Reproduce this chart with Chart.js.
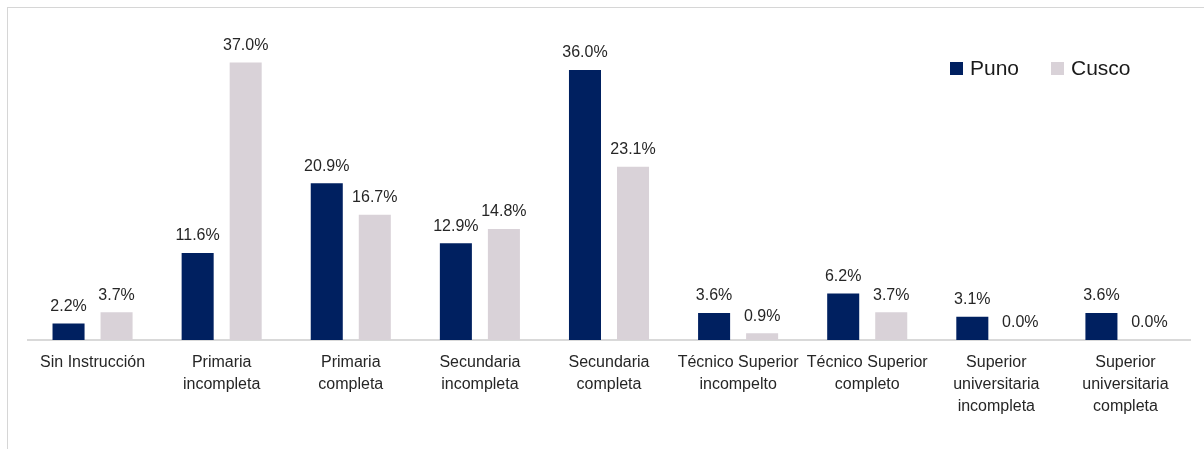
<!DOCTYPE html>
<html>
<head>
<meta charset="utf-8">
<script src="https://cdn.jsdelivr.net/npm/chart.js@4.4.1/dist/chart.umd.min.js"></script>
<style>
  html, body { margin: 0; padding: 0; background: #ffffff; overflow: hidden; }
  .marco {
    position: absolute; left: 7px; top: 7px; width: 1250px; height: 500px;
    border-left: 1.5px solid #d6d6d6; border-top: 1.5px solid #d6d6d6;
  }
  .graf { position: absolute; left: 0; top: 0; width: 1204px; height: 449px; }
</style>
</head>
<body>
<div class="marco"></div>
<div class="graf"><canvas id="Chart"></canvas></div>
<script>
// niveles educativos
const niveles = [
  ["Sin Instrucción"],
  ["Primaria", "incompleta"],
  ["Primaria", "completa"],
  ["Secundaria", "incompleta"],
  ["Secundaria", "completa"],
  ["Técnico Superior", "incompelto"],
  ["Técnico Superior", "completo"],
  ["Superior", "universitaria", "incompleta"],
  ["Superior", "universitaria", "completa"],
];
const puno = [2.2, 11.6, 20.9, 12.9, 36.0, 3.6, 6.2, 3.1, 3.6];
const cusco = [3.7, 37.0, 16.7, 14.8, 23.1, 0.9, 3.7, 0.0, 0.0];

const colorPuno = "#002060";
const colorCusco = "#d9d2d8";
const fuente = "'Liberation Sans', Arial, sans-serif";

// etiqueta de porcentaje encima de cada barra
const etiquetas = {
  id: "etiquetas",
  afterDatasetsDraw(chart) {
    const { ctx } = chart;
    ctx.save();
    ctx.font = "16px " + fuente;
    ctx.fillStyle = "#262626";
    ctx.textAlign = "center";
    ctx.textBaseline = "bottom";
    chart.data.datasets.forEach((ds, i) => {
      chart.getDatasetMeta(i).data.forEach((bar, j) => {
        ctx.fillText(ds.data[j].toFixed(1) + "%", bar.x, bar.y - 9);
      });
    });
    ctx.restore();
  },
};

// leyenda arriba a la derecha
const leyenda = {
  id: "leyenda",
  afterDraw(chart) {
    const { ctx } = chart;
    ctx.save();
    ctx.font = "21px " + fuente;
    ctx.textBaseline = "middle";
    let x = 950;
    const y = 68;
    chart.data.datasets.forEach((ds) => {
      ctx.fillStyle = ds.backgroundColor;
      ctx.fillRect(x, y - 6, 13, 13);
      ctx.fillStyle = "#1a1a1a";
      ctx.fillText(ds.label, x + 20, y + 1);
      x += 101;
    });
    ctx.restore();
  },
};

new Chart(document.getElementById("Chart"), {
  type: "bar",
  data: {
    labels: niveles,
    datasets: [
      { label: "Puno", data: puno, backgroundColor: colorPuno },
      { label: "Cusco", data: cusco, backgroundColor: colorCusco },
    ],
  },
  options: {
    responsive: true,
    maintainAspectRatio: false,
    animation: false,
    categoryPercentage: 0.744,
    barPercentage: 0.667,
    layout: { padding: { left: 28, right: 14, top: 40, bottom: 19 } },
    plugins: { legend: { display: false }, tooltip: { enabled: false } },
    scales: {
      x: {
        grid: { display: false, drawTicks: false },
        border: { color: "#d9d9d9", width: 2 },
        ticks: {
          color: "#262626",
          font: { family: fuente, size: 16, lineHeight: 1.375 },
          padding: 12,
          maxRotation: 0,
          autoSkip: false,
        },
      },
      y: { display: false, min: 0, max: 40 },
    },
  },
  plugins: [etiquetas, leyenda],
});
</script>
</body>
</html>
